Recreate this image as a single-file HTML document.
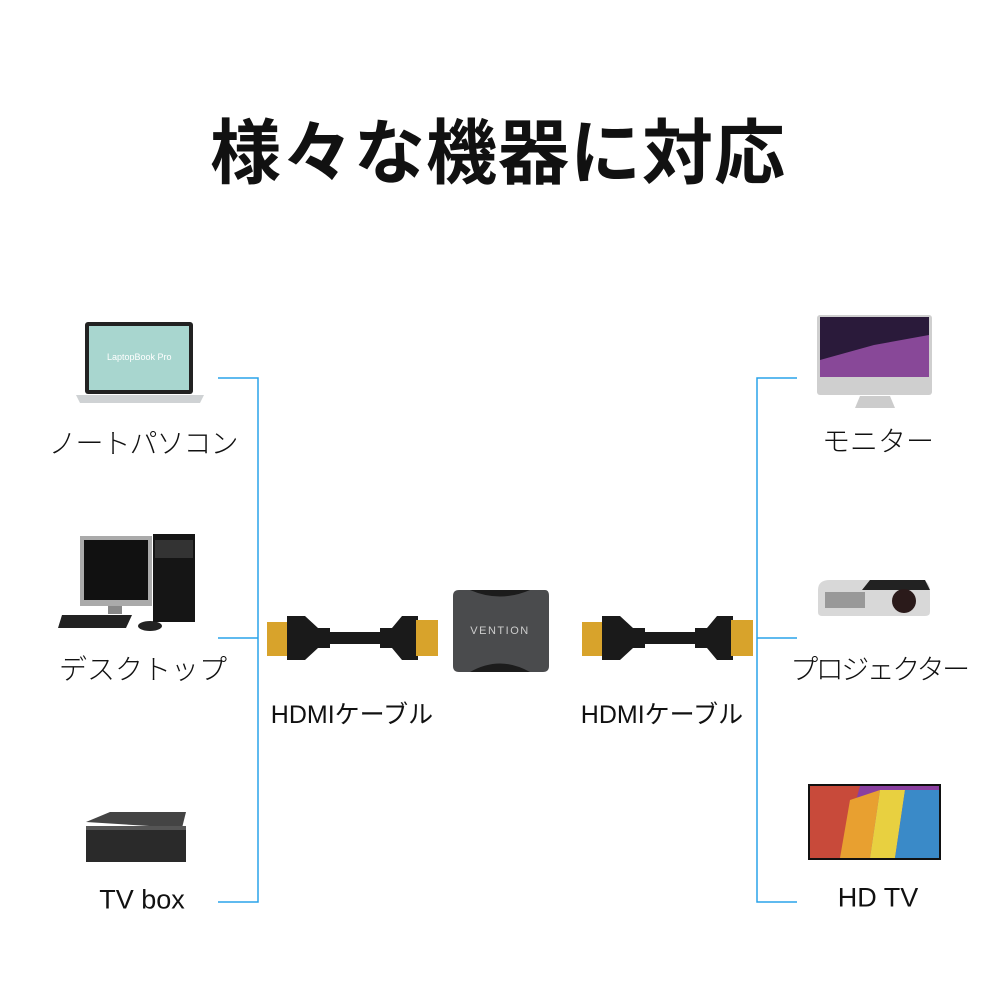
<!DOCTYPE html>
<html><head><meta charset="utf-8"><style>
body{margin:0;width:1000px;height:1000px;background:#fff;position:relative;overflow:hidden;font-family:"Liberation Sans","Noto Sans CJK JP",sans-serif;}
.t{position:absolute;white-space:nowrap;transform:translate(-50%,-50%);color:#111;}
.lab{font-size:28px;font-weight:300;}
.h{font-size:25px;font-weight:400;}
</style></head><body>
<div class="t" style="left:498px;top:148px;font-size:71px;font-weight:700;letter-spacing:1px;">様々な機器に対応</div>

<svg width="1000" height="1000" style="position:absolute;left:0;top:0">
<g stroke="#2aa3ea" stroke-width="1.5" fill="none">
<path d="M218 378H258V902H218M218 638H258"/>
<path d="M797 378H757V902H797M797 638H757"/>
</g>
<!-- laptop -->
<rect x="85" y="322" width="108" height="72" rx="3" fill="#222"/>
<rect x="89" y="326" width="100" height="64" fill="#a8d6cf"/>
<text x="107" y="360" font-size="9" fill="#fff" font-family="Liberation Sans">LaptopBook Pro</text>
<path d="M76 395H204L200 403H80Z" fill="#cfd2d4"/>
<!-- desktop -->
<rect x="80" y="536" width="72" height="70" fill="#aaa"/>
<rect x="84" y="540" width="64" height="60" fill="#111"/>
<rect x="108" y="606" width="14" height="8" fill="#888"/>
<path d="M62 615H132L126 628H58Z" fill="#222"/>
<ellipse cx="150" cy="626" rx="12" ry="5" fill="#222"/>
<rect x="153" y="534" width="42" height="88" fill="#151515"/>
<rect x="155" y="540" width="38" height="18" fill="#333"/>
<!-- tv box -->
<path d="M86 822L110 812H186L182 828Z" fill="#444"/>
<rect x="86" y="826" width="100" height="36" fill="#2a2a2a"/>
<rect x="86" y="826" width="100" height="4" fill="#555"/>
<!-- cables left -->
<rect x="267" y="622" width="22" height="34" fill="#d8a32b"/>
<path d="M287 616H305L318 628H330V632H380V628H392L402 616H418V660H402L392 648H380V644H330V648H318L305 660H287Z" fill="#1a1a1a"/>
<rect x="416" y="620" width="22" height="36" fill="#d8a32b"/>
<!-- adapter -->
<path d="M455 590H545Q549 590 549 596V666Q549 672 543 672H459Q453 672 453 666V596Q453 590 459 590Z" fill="#4a4b4d"/>
<path d="M470 590Q500 603 530 590Z M470 672Q500 655 530 672Z" fill="#1c1c1c"/>
<text x="500" y="634" font-size="11" fill="#ccc" text-anchor="middle" font-family="Liberation Sans" letter-spacing="1.5">VENTION</text>
<!-- cables right -->
<rect x="582" y="622" width="22" height="34" fill="#d8a32b"/>
<path d="M602 616H620L633 628H645V632H695V628H707L717 616H733V660H717L707 648H695V644H645V648H633L620 660H602Z" fill="#1a1a1a"/>
<rect x="731" y="620" width="22" height="36" fill="#d8a32b"/>
<!-- monitor -->
<rect x="817" y="315" width="115" height="80" rx="3" fill="#cfcfcf"/>
<rect x="820" y="317" width="109" height="60" fill="#2a1a3a"/>
<path d="M820 360L874 345L929 335V377H820Z" fill="#b05cc0" opacity=".7"/>
<path d="M860 396H890L895 408H855Z" fill="#ccc"/>
<!-- projector -->
<path d="M818 590Q818 580 830 580H920Q930 580 930 592V612Q930 616 925 616H822Q818 616 818 612Z" fill="#d8d8d8"/>
<path d="M870 580H925L930 590H862Z" fill="#222"/>
<circle cx="904" cy="601" r="12" fill="#2a1a1a"/>
<rect x="825" y="592" width="40" height="16" fill="#999"/>
<!-- HD TV -->
<rect x="808" y="784" width="133" height="76" fill="#111"/>
<rect x="810" y="786" width="129" height="72" fill="#8a3fa0"/>
<path d="M810 786L860 786L840 858H810Z" fill="#c84a3a"/>
<path d="M850 800L880 790L870 858H840Z" fill="#e8a030"/>
<path d="M880 790L905 790L895 858H870Z" fill="#e8d040"/>
<path d="M905 790H939V858H895Z" fill="#3a8ac8"/>
</svg>

<div class="t lab" style="left:143px;top:442px;letter-spacing:-1px">ノートパソコン</div>
<div class="t lab" style="left:143px;top:668px">デスクトップ</div>
<div class="t lab" style="left:142px;top:900px;font-weight:400;font-size:27px">TV box</div>
<div class="t lab" style="left:878px;top:440px">モニター</div>
<div class="t lab" style="left:879px;top:668px;letter-spacing:-2.5px">プロジェクター</div>
<div class="t lab" style="left:878px;top:898px;font-weight:400;font-size:27px">HD TV</div>
<div class="t h" style="left:352px;top:713px">HDMIケーブル</div>
<div class="t h" style="left:662px;top:713px">HDMIケーブル</div>
</body></html>
